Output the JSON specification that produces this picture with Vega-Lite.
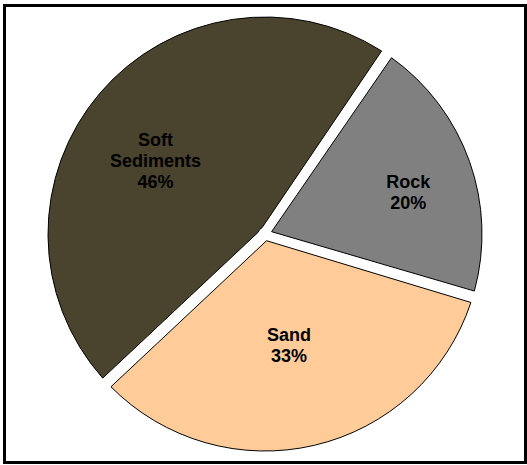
{
  "$schema": "https://vega.github.io/schema/vega-lite/v6.json",
  "width": 521,
  "height": 457,
  "autosize": {"type": "none"},
  "padding": {"left": 4.5, "top": 5.5, "right": 1.5, "bottom": 2.5},
  "background": "white",
  "config": {"view": {"stroke": null}},
  "data": {
    "values": [
      {"category": "Rock", "value": 20, "label": ["Rock", "20%"]},
      {"category": "Sand", "value": 33, "label": ["Sand", "33%"]},
      {"category": "Soft Sediments", "value": 46, "label": ["Soft", "Sediments", "46%"]}
    ]
  },
  "layer": [
    {
      "data": {"values": [{"frame": "border"}]},
      "mark": {"type": "rect", "fill": null, "fillOpacity": 0, "stroke": "black", "strokeWidth": 3},
      "encoding": {}
    },
    {
      "mark": {"type": "arc", "outerRadius": 217, "innerRadius": 7, "padAngle": 0.055, "stroke": "black", "strokeWidth": 1},
      "encoding": {
        "theta": {"field": "value", "type": "quantitative", "stack": true, "scale": {"range": [0.595, 6.878]}},
        "color": {
          "field": "category",
          "type": "nominal",
          "scale": {"domain": ["Rock", "Sand", "Soft Sediments"], "range": ["#808080", "#FFCC99", "#4A442E"]},
          "legend": null
        },
        "order": {"field": "category", "type": "nominal"}
      }
    },
    {
      "mark": {"type": "text", "font": "Liberation Sans", "fontSize": 18, "fontWeight": "bold", "lineHeight": 21, "color": "black", "align": "center", "baseline": "middle"},
      "encoding": {
        "theta": {"field": "value", "type": "quantitative", "stack": true},
        "radius": {"value": {"expr": "datum.category === 'Rock' ? 152 : datum.category === 'Sand' ? 105 : 144"}},
        "detail": {"field": "category", "type": "nominal"},
        "order": {"field": "category", "type": "nominal"},
        "text": {"field": "label"}
      }
    }
  ]
}
